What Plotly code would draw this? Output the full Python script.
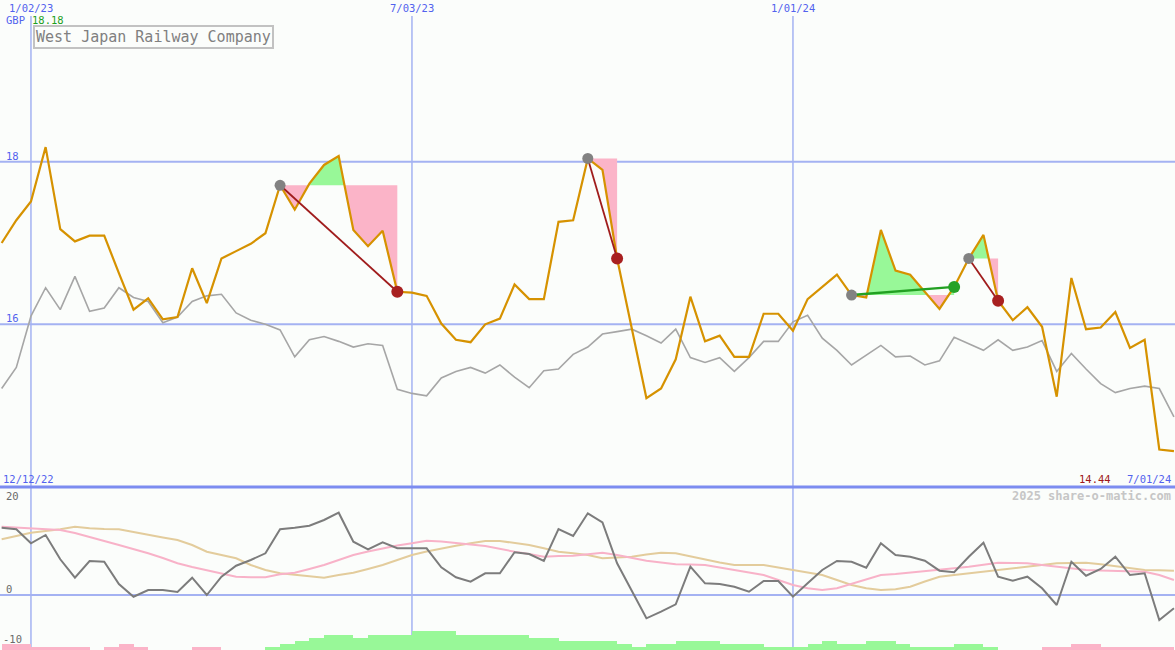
import numpy as np
import pandas as pd
import plotly.graph_objects as go

W, H = 1175, 650

# ---------------- data (weekly) ----------------
dates = pd.date_range("2022-12-19", periods=81, freq="7D")

price = [17.00, 17.28, 17.51, 18.18, 17.17, 17.02, 17.09, 17.09, 16.63, 16.18,
         16.32, 16.06, 16.09, 16.69, 16.26, 16.81, 16.90, 16.99, 17.12, 17.71,
         17.41, 17.73, 17.96, 18.07, 17.16, 16.96, 17.15, 16.40, 16.39, 16.35,
         16.01, 15.81, 15.78, 16.00, 16.07, 16.49, 16.31, 16.31, 17.26, 17.28,
         18.04, 17.90, 16.81, 15.97, 15.09, 15.21, 15.57, 16.34, 15.79, 15.86,
         15.60, 15.60, 16.13, 16.13, 15.92, 16.31, 16.46, 16.61, 16.36, 16.33,
         17.16, 16.66, 16.61, 16.40, 16.19, 16.46, 16.81, 17.10, 16.29, 16.05,
         16.21, 15.97, 15.11, 16.57, 15.94, 15.96, 16.15, 15.71, 15.81, 14.46,
         14.44]

index_line = [15.21, 15.47, 16.10, 16.45, 16.18, 16.59, 16.16, 16.20, 16.45, 16.33,
              16.28, 16.02, 16.09, 16.28, 16.35, 16.37, 16.14, 16.05, 16.00, 15.93,
              15.60, 15.81, 15.85, 15.79, 15.72, 15.76, 15.74, 15.20, 15.15, 15.12,
              15.34, 15.42, 15.47, 15.40, 15.50, 15.35, 15.22, 15.43, 15.45, 15.63,
              15.72, 15.88, 15.91, 15.94, 15.86, 15.77, 15.94, 15.59, 15.53, 15.59,
              15.42, 15.59, 15.79, 15.79, 16.03, 16.11, 15.83, 15.68, 15.50, 15.62,
              15.74, 15.60, 15.61, 15.50, 15.55, 15.84, 15.76, 15.68, 15.81, 15.68,
              15.72, 15.80, 15.42, 15.64, 15.45, 15.27, 15.16, 15.21, 15.24, 15.21,
              14.86]

momentum = [13.46, 13.14, 10.34, 12.0, 7.14, 3.46, 6.8, 6.66, 2.2, -0.34,
            1.0, 1.0, 0.6, 3.46, 0.0, 3.66, 5.86, 7.0, 8.34, 13.14,
            13.46, 13.86, 15.0, 16.46, 10.66, 9.14, 10.54, 9.34, 9.34, 9.34,
            5.54, 3.54, 2.66, 4.34, 4.34, 8.54, 8.2, 6.8, 13.2, 11.8,
            16.34, 14.54, 6.34, 0.86, -4.66, -3.34, -1.86, 5.66, 2.34, 2.2,
            1.66, 0.66, 2.8, 2.8, -0.34, 2.34, 5.0, 6.8, 6.66, 5.46,
            10.34, 8.0, 7.66, 6.86, 4.86, 4.54, 7.66, 10.46, 3.66, 2.86,
            3.66, 1.34, -2.0, 6.66, 3.86, 5.2, 7.66, 4.0, 4.34, -5.0,
            -2.66]

avg_fast = [13.66, 13.5, 13.34, 13.2, 13.0, 12.4, 11.66, 10.8, 10.0, 9.2,
            8.34, 7.4, 6.34, 5.6, 5.0, 4.3, 3.66, 3.54, 3.54, 4.14,
            4.46, 5.2, 6.0, 7.0, 8.0, 8.7, 9.34, 9.9, 10.34, 10.86,
            10.7, 10.46, 10.1, 9.8, 9.2, 8.66, 8.2, 7.66, 7.8, 7.86,
            8.14, 8.46, 8.0, 7.4, 6.86, 6.5, 6.14, 6.1, 6.0, 5.5,
            5.0, 4.5, 4.0, 3.0, 2.0, 1.34, 1.0, 1.34, 2.2, 3.14,
            4.0, 4.2, 4.46, 4.74, 5.0, 5.34, 5.66, 6.06, 6.46, 6.4,
            6.34, 6.0, 5.66, 5.34, 5.0, 4.9, 4.8, 4.74, 4.66, 4.0,
            3.0]

avg_slow = [11.14, 11.8, 12.46, 12.8, 13.14, 13.66, 13.34, 13.2, 13.14, 12.6,
            12.0, 11.5, 11.0, 10.0, 8.66, 8.0, 7.34, 6.0, 5.0, 4.34,
            4.0, 3.66, 3.46, 4.0, 4.46, 5.2, 6.0, 7.0, 8.0, 8.7,
            9.34, 9.84, 10.34, 10.8, 10.8, 10.4, 10.0, 9.34, 8.66, 8.34,
            8.0, 7.34, 7.54, 7.66, 8.1, 8.46, 8.34, 7.7, 7.0, 6.5,
            6.0, 6.0, 6.0, 5.5, 5.0, 4.5, 4.0, 3.0, 2.0, 1.34,
            1.0, 1.14, 1.66, 2.7, 3.66, 4.0, 4.34, 4.7, 5.0, 5.34,
            5.66, 6.0, 6.34, 6.4, 6.46, 6.14, 5.8, 5.4, 5.0, 4.94,
            4.86]

flow = [-1.2, -1.2, -0.6, -0.6, -0.6, -0.6, 0, -0.6, -1.2, -0.6,
        0, 0, 0, -0.6, -0.6, 0, 0, 0, 0.6, 1.2,
        1.8, 2.4, 3.0, 3.0, 2.4, 3.0, 3.0, 3.0, 3.8, 3.8,
        3.8, 3.0, 3.0, 3.0, 3.0, 3.0, 2.4, 2.4, 1.8, 1.8,
        1.8, 1.8, 1.2, 0.6, 1.2, 1.2, 1.8, 1.8, 1.8, 1.2,
        1.2, 1.2, 0.6, 0.6, 0.6, 1.2, 1.8, 1.2, 1.2, 1.8,
        1.8, 1.2, 0.6, 0.6, 0.6, 1.2, 1.2, 0.6, 0, 0,
        0, -0.6, -0.6, -1.2, -1.2, -0.6, -0.6, -0.6, -0.6, -0.6,
        0]

# trades: (buy index, sell index)
trades = [(19, 27), (40, 42), (58, 65), (66, 68)]

date_ticks = ["2023-01-02", "2023-07-03", "2024-01-01"]
date_tick_labels = ["1/02/23", "7/03/23", "1/01/24"]
price_ticks = [18, 16]
osc_ticks = [20, 0, -10]

# ---------------- styling ----------------
BG = "#fbfdfb"
GRID = "#a4b2f2"
BLUE_TXT = "#5262ee"
ORANGE = "#d69200"
PINK_FILL = "#fbb4c8"
GREEN_FILL = "#98f898"
FONT = "DejaVu Sans Mono"
SMALL = 10.5

SPLIT = 487  # pixel row of the panel divider
dom_split = 1 - SPLIT / H

# upper price axis: 18 at y=161.7px, 81.3 px per unit
PX_U = 81.3
up_top = 18 + 161.7 / PX_U
up_bot = 18 - (SPLIT - 161.7) / PX_U
# lower oscillator axis: 0 at y=595px, 5 px per unit
PX_L = 5.0
lo_top = (595 - SPLIT) / PX_L
lo_bot = (595 - H) / PX_L

x0 = pd.Timestamp("2022-12-18 05:00")
x1 = pd.Timestamp("2024-07-01 12:00")

fig = go.Figure()

# ---- flow bars (bottom of lower panel) ----
week = pd.Timedelta(days=7)
nz = [i for i, v in enumerate(flow) if v != 0]
fig.add_trace(go.Bar(
    x=[dates[i] + week / 2 for i in nz], y=[abs(flow[i]) for i in nz],
    base=[lo_bot] * len(nz),
    width=[week.total_seconds() * 1000] * len(nz),
    marker=dict(color=[GREEN_FILL if flow[i] > 0 else PINK_FILL for i in nz], line_width=0),
    xaxis="x", yaxis="y2", hoverinfo="skip", showlegend=False))

# ---- trade fills ----
tn = dates.values.astype("datetime64[ns]").astype(np.int64)


def trade_path(i0, i1, level):
    xs, ys = [], []
    for i in range(i0, i1 + 1):
        if i > i0:
            a, b = price[i - 1], price[i]
            if (a - level) * (b - level) < 0:
                f = (level - a) / (b - a)
                xs.append(tn[i - 1] + f * (tn[i] - tn[i - 1]))
                ys.append(level)
        xs.append(tn[i])
        ys.append(price[i])
    return xs, ys


for i0, i1 in trades:
    level = price[i0]
    xs, ys = trade_path(i0, i1, level)
    xd = list(pd.to_datetime(np.array(xs, dtype=np.int64)))
    up = [max(y, level) for y in ys]
    dn = [min(y, level) for y in ys]
    for arr, col in ((up, GREEN_FILL), (dn, PINK_FILL)):
        fig.add_trace(go.Scatter(
            x=xd + xd[::-1], y=arr + [level] * len(arr), fill="toself",
            fillcolor=col, line=dict(width=0), mode="lines",
            hoverinfo="skip", showlegend=False))

# ---- upper panel lines ----
fig.add_trace(go.Scatter(x=dates, y=index_line, mode="lines",
                         line=dict(color="#a6a6a6", width=1.6), showlegend=False))
fig.add_trace(go.Scatter(x=dates, y=price, mode="lines",
                         line=dict(color=ORANGE, width=2.2), showlegend=False))

# ---- trade lines and markers ----
for i0, i1 in trades:
    win = price[i1] > price[i0]
    lc = "#22a022" if win else "#a01c1c"
    fig.add_trace(go.Scatter(x=[dates[i0], dates[i1]], y=[price[i0], price[i1]],
                             mode="lines", line=dict(color=lc, width=2.4 if win else 1.8),
                             showlegend=False))
    fig.add_trace(go.Scatter(x=[dates[i0]], y=[price[i0]], mode="markers",
                             marker=dict(color="#828282", size=11), showlegend=False))
    fig.add_trace(go.Scatter(x=[dates[i1]], y=[price[i1]], mode="markers",
                             marker=dict(color="#26a226" if win else "#a82020", size=12),
                             showlegend=False))

# ---- lower panel lines ----
fig.add_trace(go.Scatter(x=dates, y=avg_slow, mode="lines", xaxis="x", yaxis="y2",
                         line=dict(color="#e3cc9c", width=2), showlegend=False))
fig.add_trace(go.Scatter(x=dates, y=avg_fast, mode="lines", xaxis="x", yaxis="y2",
                         line=dict(color="#f8b2c8", width=2), showlegend=False))
fig.add_trace(go.Scatter(x=dates, y=momentum, mode="lines", xaxis="x", yaxis="y2",
                         line=dict(color="#7c7c7c", width=2), showlegend=False))

# ---- grid shapes ----
shapes = []
for d in date_ticks:
    shapes.append(dict(type="line", xref="x", yref="paper", x0=d, x1=d,
                       y0=0, y1=1 - 16 / H, line=dict(color=GRID, width=1.5), layer="below"))
for v in price_ticks:
    shapes.append(dict(type="line", xref="paper", yref="y", x0=0, x1=1, y0=v, y1=v,
                       line=dict(color=GRID, width=2), layer="below"))
shapes.append(dict(type="line", xref="paper", yref="y2", x0=0, x1=1, y0=0, y1=0,
                   line=dict(color=GRID, width=2), layer="below"))
shapes.append(dict(type="line", xref="paper", yref="paper", x0=0, x1=1,
                   y0=dom_split, y1=dom_split, line=dict(color="#7c8cf0", width=3)))


def px(x):
    return x / W


def py(y):
    return 1 - y / H


ann = []


def label(text, x, y, color, size=SMALL, xanchor="left", **kw):
    ann.append(dict(text=text, x=px(x), y=py(y), xref="paper", yref="paper",
                    xanchor=xanchor, yanchor="middle", showarrow=False,
                    font=dict(family=FONT, size=size, color=color), **kw))


for d, t in zip(date_ticks, date_tick_labels):
    xpix = (pd.Timestamp(d) - x0) / (x1 - x0) * W
    label(t, xpix, 8, BLUE_TXT, xanchor="center")
label("GBP", 4, 20, BLUE_TXT)
label(f"{max(price):.2f}", 30, 20, "#1ea01e")
for v in price_ticks:
    label(str(v), 4, 161.7 - (v - 18) * PX_U - 6, BLUE_TXT)
label("12/12/22", 1, 479, BLUE_TXT)
label(f"{price[-1]:.2f}", 1113, 479, "#a01818", xanchor="right")
label("7/01/24", 1173, 479, BLUE_TXT, xanchor="right")
label("<b>2025 share-o-matic.com</b>", 1173, 496, "#c6c6c6", size=12, xanchor="right")
for v in osc_ticks:
    label(str(v), 4 if v >= 0 else 1, 595 - v * PX_L - 6 if v != 20 else 496, "#6a6a6a")
ann.append(dict(text="West Japan Railway Company", x=px(33), y=py(25), xref="paper", yref="paper",
                xanchor="left", yanchor="top", showarrow=False,
                font=dict(family=FONT, size=15, color="#808080"),
                bordercolor="#c2c2c2", borderwidth=2, borderpad=1, bgcolor=BG))

fig.update_layout(
    width=W, height=H, margin=dict(l=0, r=0, t=0, b=0),
    paper_bgcolor=BG, plot_bgcolor=BG, showlegend=False, bargap=0,
    xaxis=dict(range=[x0, x1], visible=False, anchor="y2"),
    yaxis=dict(range=[up_bot, up_top], domain=[dom_split, 1], visible=False),
    yaxis2=dict(range=[lo_bot, lo_top], domain=[0, dom_split], visible=False),
    shapes=shapes, annotations=ann, hovermode=False,
)

fig.write_html("out.html", config={"displayModeBar": False},
               post_script="document.body.style.margin='0';document.body.style.overflow='hidden';")
